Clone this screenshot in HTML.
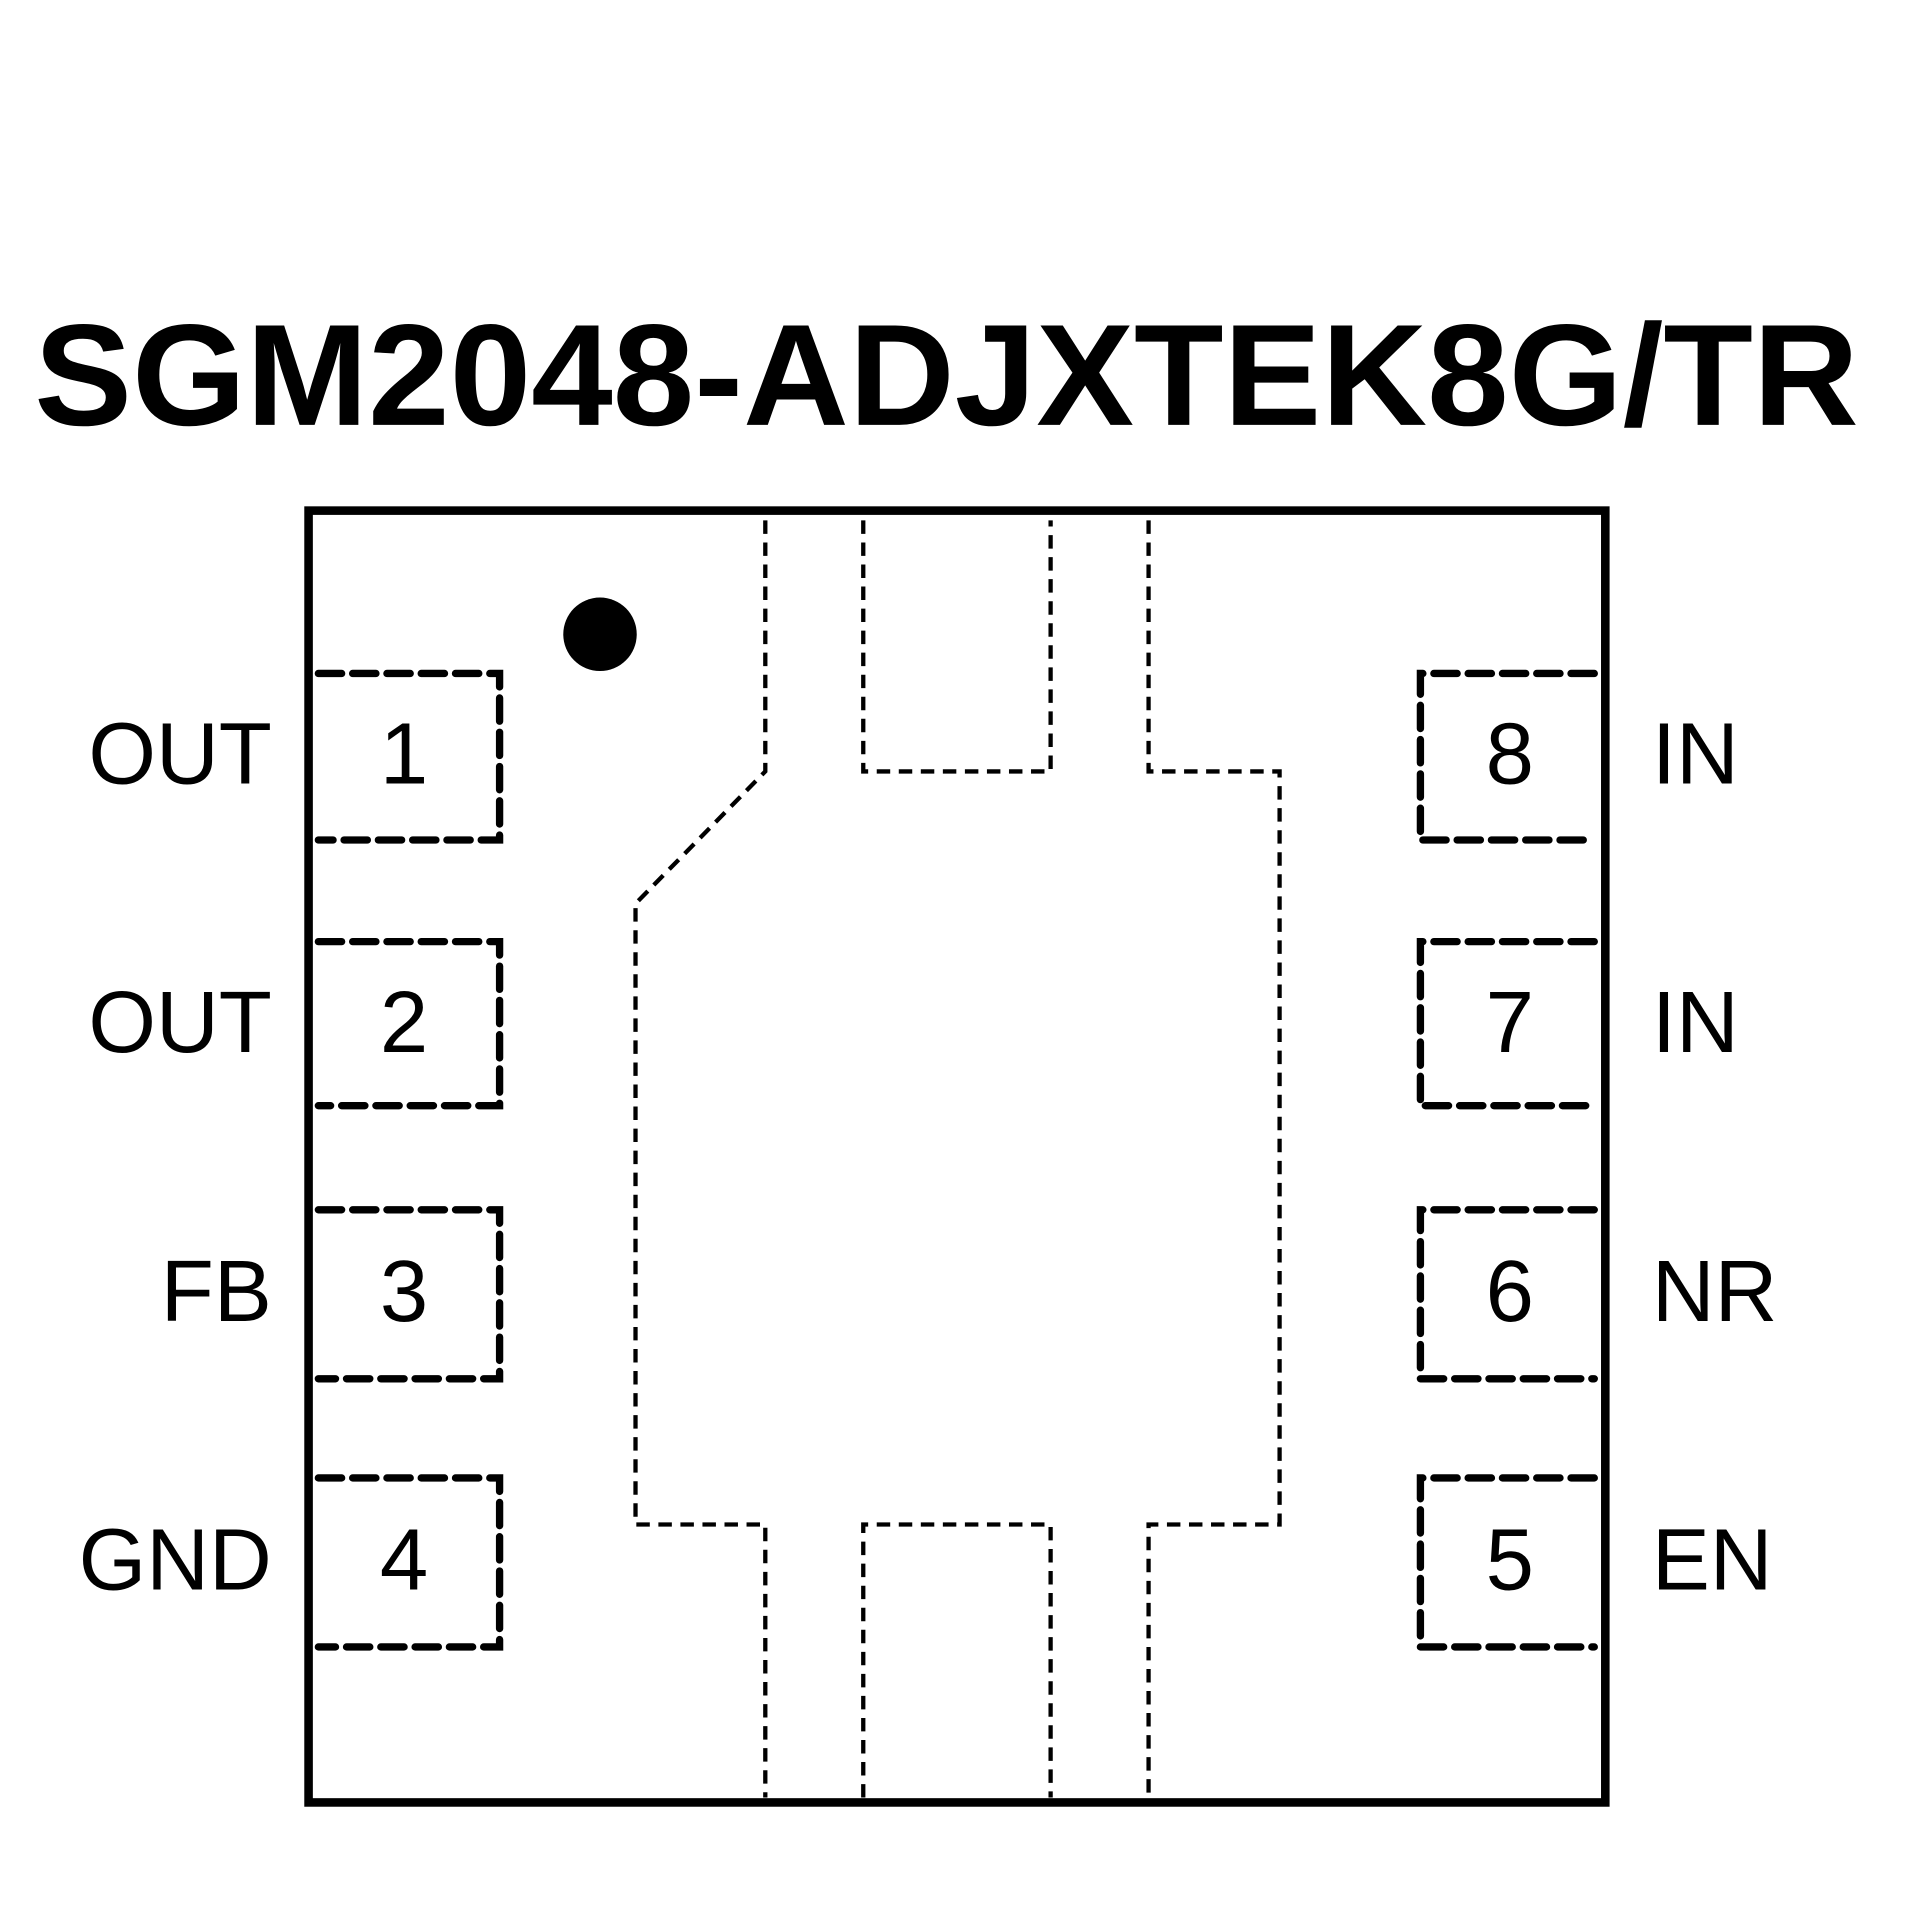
<!DOCTYPE html>
<html><head><style>html,body{margin:0;padding:0;background:#fff}svg{display:block}</style></head>
<body>
<svg width="1920" height="1920" viewBox="0 0 1568 1568" xmlns="http://www.w3.org/2000/svg">
<rect width="1568" height="1568" fill="#fff"/>
<text x="773" y="347" text-anchor="middle" font-family="Liberation Sans, sans-serif" font-weight="bold" font-size="118" textLength="1490" lengthAdjust="spacingAndGlyphs" fill="#000">SGM2048-ADJXTEK8G/TR</text>
<rect x="252" y="417" width="1059" height="1055" fill="none" stroke="#000" stroke-width="7"/>
<circle cx="490" cy="518" r="30" fill="#000"/>
<g fill="none" stroke="#000" stroke-width="3.5" stroke-dasharray="11 7">
<path d="M625 425 V630 L519 738 V1245 H625 V1468"/>
<path d="M938 425 V630 H1045 V1245 H938 V1468"/>
<path d="M705 425 V630 H858 V425"/>
<path d="M705 1468 V1245 H858 V1468"/>
</g>
<g fill="none" stroke="#000" stroke-width="6" stroke-dasharray="19 9" stroke-linecap="round">
<path d="M260 550 H408 V686 H260"/>
<path d="M260 769 H408 V903 H260"/>
<path d="M260 988 H408 V1126 H260"/>
<path d="M260 1207 H408 V1345 H260"/>
<path d="M1302 550 H1160 V686 H1302"/>
<path d="M1302 769 H1160 V903 H1302"/>
<path d="M1302 988 H1160 V1126 H1302"/>
<path d="M1302 1207 H1160 V1345 H1302"/>
</g>
<g font-family="Liberation Sans, sans-serif" font-size="71" fill="#000">
<g text-anchor="middle">
<text x="330" y="640">1</text><text x="330" y="859">2</text><text x="330" y="1079">3</text><text x="330" y="1298">4</text>
<text x="1233" y="640">8</text><text x="1233" y="859">7</text><text x="1233" y="1079">6</text><text x="1233" y="1298">5</text>
</g>
<g text-anchor="end">
<text x="222" y="640">OUT</text><text x="222" y="859">OUT</text><text x="222" y="1079">FB</text><text x="222" y="1298">GND</text>
</g>
<text x="1349" y="640">IN</text><text x="1349" y="859">IN</text><text x="1349" y="1079">NR</text><text x="1349" y="1298">EN</text>
</g>
</svg>
</body></html>
